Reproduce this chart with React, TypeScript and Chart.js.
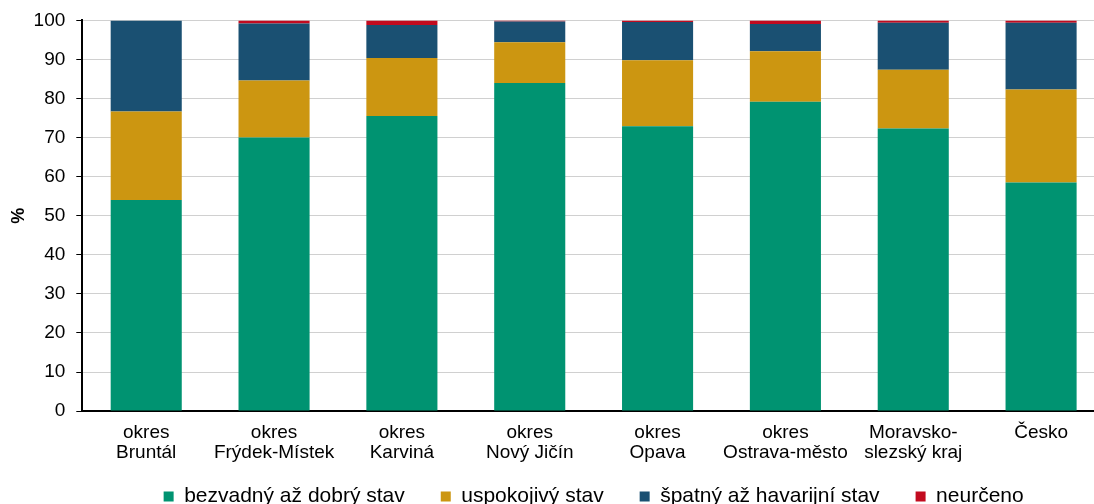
import React, { useEffect, useRef } from "react";
import { Chart, registerables } from "chart.js";

Chart.register(...registerables);

const categories: string[][] = [
  ["okres", "Bruntál"],
  ["okres", "Frýdek-Místek"],
  ["okres", "Karviná"],
  ["okres", "Nový Jičín"],
  ["okres", "Opava"],
  ["okres", "Ostrava-město"],
  ["Moravsko-", "slezský kraj"],
  ["Česko"],
];

const bezvadny = [54.0, 70.0, 75.5, 84.0, 72.9, 79.2, 72.3, 58.5];
const uspokojivy = [22.7, 14.6, 14.9, 10.4, 16.9, 12.9, 15.1, 23.8];
const spatny = [23.3, 14.6, 8.4, 5.3, 9.8, 7.0, 12.0, 17.1];
const neurceno = [0.0, 0.8, 1.2, 0.3, 0.4, 0.9, 0.6, 0.6];

const seriesNames = [
  "bezvadný až dobrý stav",
  "uspokojivý stav",
  "špatný až havarijní stav",
  "neurčeno",
];
const seriesColors = ["#009371", "#CC9611", "#1A5072", "#C20B1F"];

const yTicks = [0, 10, 20, 30, 40, 50, 60, 70, 80, 90, 100];

const legendShift = {
  id: "legendShift",
  afterLayout(chart: any) {
    if (chart.legend) {
      chart.legend.top -= 25;
      chart.legend.bottom -= 25;
    }
  },
};

export default function App() {
  const ref = useRef<HTMLCanvasElement | null>(null);

  useEffect(() => {
    if (!ref.current) return;
    const font = "'Liberation Sans', Arial, sans-serif";
    const data = [bezvadny, uspokojivy, spatny, neurceno];
    const chart = new Chart(ref.current, {
      type: "bar",
      data: {
        labels: categories,
        datasets: data.map((d, i) => ({
          label: seriesNames[i],
          data: d,
          backgroundColor: seriesColors[i],
          borderWidth: 0,
          barPercentage: 0.556,
          categoryPercentage: 1,
        })),
      },
      plugins: [legendShift],
      options: {
        responsive: false,
        animation: false,
        layout: { padding: { top: 8, left: 8, right: 0, bottom: 0 } },
        plugins: {
          tooltip: { enabled: false },
          legend: {
            position: "bottom",
            fullSize: false,
            labels: {
              boxWidth: 10,
              boxHeight: 10,
              padding: 36,
              color: "#000",
              font: { family: font, size: 21 },
            },
          },
        },
        scales: {
          x: {
            stacked: true,
            grid: { display: false, tickLength: 0 },
            border: { display: true, color: "#000", width: 2 },
            ticks: {
              color: "#000",
              padding: 12,
              maxRotation: 0,
              autoSkip: false,
              font: { family: font, size: 19, lineHeight: 1.05 },
            },
          },
          y: {
            stacked: true,
            min: 0,
            max: 100,
            afterBuildTicks: (axis: any) => {
              axis.ticks = yTicks.map((v) => ({ value: v }));
            },
            grid: {
              color: "#d0d0d0",
              lineWidth: 1,
              tickColor: "#000",
              tickLength: 6,
            },
            border: { display: true, color: "#000", width: 2 },
            ticks: {
              color: "#000",
              padding: 11,
              font: { family: font, size: 19 },
            },
            title: {
              display: true,
              text: "%",
              color: "#000",
              font: { family: font, size: 18, weight: "bold" },
              padding: { top: 0, bottom: -7 },
            },
          },
        },
      },
    });
    return () => chart.destroy();
  }, []);

  return (
    <div
      style={{
        position: "fixed",
        left: 0,
        top: 0,
        width: 1094,
        height: 504,
        overflow: "hidden",
        background: "#fff",
      }}
    >
      <canvas
        ref={ref}
        width={1105}
        height={544}
        style={{ display: "block", marginTop: -2 }}
      />
    </div>
  );
}
